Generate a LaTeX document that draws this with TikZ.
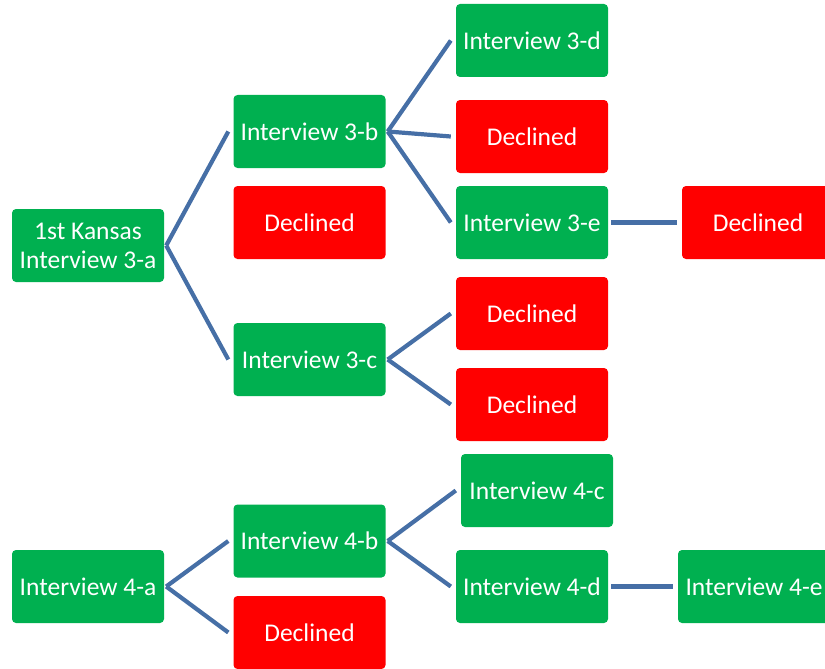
\documentclass[tikz,border=0pt]{standalone}
\usepackage{fontspec}
\setmainfont{Carlito}
\definecolor{boxgreen}{RGB}{0,176,80}
\definecolor{boxred}{RGB}{255,0,0}
\definecolor{linkblue}{RGB}{70,111,166}
\tikzset{
  box/.style={rounded corners=4pt, minimum width=152pt, minimum height=73pt, inner sep=0pt,
    text=white, font=\fontsize{25.5}{29}\selectfont, align=center},
  yes/.style={box, fill=boxgreen},
  no/.style={box, fill=boxred},
  link/.style={draw=linkblue, line width=4.2pt}
}
\begin{document}
\begin{tikzpicture}[x=1pt,y=-1pt]
\useasboundingbox (0,0) rectangle (825,669);
\clip (0,0) rectangle (825,669);
\node[yes] (a3) at (88,245.5) {1st Kansas\\Interview 3-a};
\node[yes] (b3) at (309.5,131.5) {Interview 3-b};
\node[no]  (d1) at (309.5,222.5) {Declined};
\node[yes] (c3) at (309.5,359.5) {Interview 3-c};
\node[yes] (dd3) at (532,40.5) {Interview 3-d};
\node[no]  (d2) at (532,136.5) {Declined};
\node[yes] (e3) at (532,222.5) {Interview 3-e};
\node[no]  (d3) at (758,222.5) {Declined};
\node[no]  (d4) at (532,313.5) {Declined};
\node[no]  (d5) at (532,404.5) {Declined};
\node[yes] (a4) at (88,586.5) {Interview 4-a};
\node[yes] (b4) at (309.5,541) {Interview 4-b};
\node[no]  (d6) at (309.5,632.5) {Declined};
\node[yes] (c4) at (537,490.5) {Interview 4-c};
\node[yes] (dd4) at (532,586.5) {Interview 4-d};
\node[yes] (e4) at (754,586.5) {Interview 4-e};
\draw[link] ([xshift=2pt]a3.east) -- ([xshift=-5pt]b3.west);
\draw[link] ([xshift=2pt]a3.east) -- ([xshift=-5pt]c3.west);
\draw[link] ([xshift=2pt]b3.east) -- ([xshift=-5pt]dd3.west);
\draw[link] ([xshift=2pt]b3.east) -- ([xshift=-5pt]d2.west);
\draw[link] ([xshift=2pt]b3.east) -- ([xshift=-5pt]e3.west);
\draw[link] ([xshift=3pt]e3.east) -- ([xshift=-5pt]d3.west);
\draw[link] ([xshift=2pt]c3.east) -- ([xshift=-5pt]d4.west);
\draw[link] ([xshift=2pt]c3.east) -- ([xshift=-5pt]d5.west);
\draw[link] ([xshift=2pt]a4.east) -- ([xshift=-5pt]b4.west);
\draw[link] ([xshift=2pt]a4.east) -- ([xshift=-5pt]d6.west);
\draw[link] ([xshift=2pt]b4.east) -- ([xshift=-5pt]c4.west);
\draw[link] ([xshift=2pt]b4.east) -- ([xshift=-5pt]dd4.west);
\draw[link] ([xshift=3pt]dd4.east) -- ([xshift=-5pt]e4.west);
\end{tikzpicture}
\end{document}
